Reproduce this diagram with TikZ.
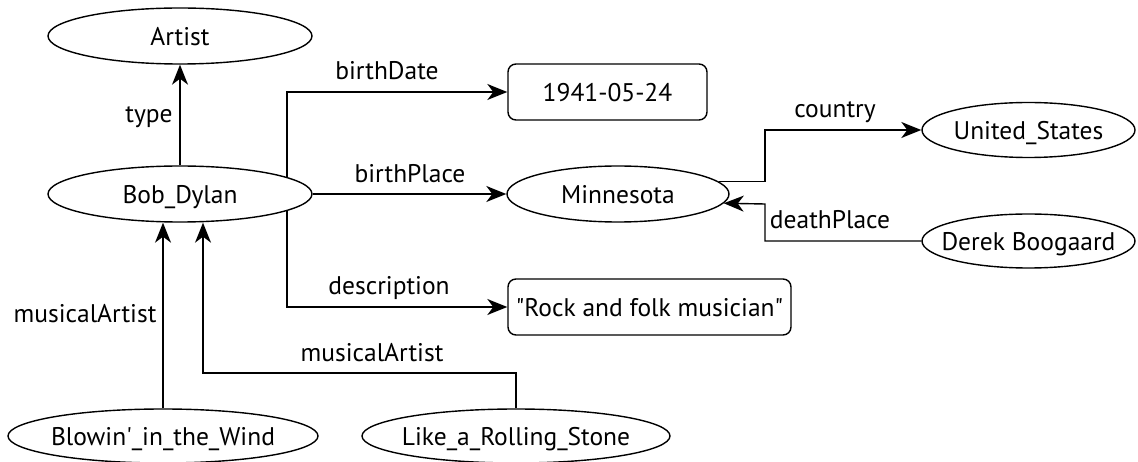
\documentclass[tikz,border=0pt]{standalone}
\usepackage{fontspec}
\newfontfamily\ptfont{PT Sans}
\usetikzlibrary{shapes.geometric,arrows.meta}
\begin{document}
\begin{tikzpicture}[x=1pt,y=-1pt,
  font=\ptfont\fontsize{25.5}{30}\selectfont,
  every node/.style={inner sep=0pt, text height=22pt, text depth=3pt},
  ell/.style={draw, ellipse, line width=1.4pt, minimum height=56pt, inner xsep=-50pt},
  lit/.style={draw, rectangle, rounded corners=8pt, line width=1.4pt, minimum height=56pt},
  arr/.style={line width=1.4pt, -{Stealth[length=20pt,width=16pt,inset=6pt]}},
  lbl/.style={}
]
\useasboundingbox (0,0) rectangle (1138,462);
% nodes
\node[ell, minimum width=264pt] (artist) at (180,36) {Artist};
\node[ell, minimum width=264pt] (bob) at (180,194) {Bob\_Dylan};
\node[lit, minimum width=199pt] (date) at (607.5,92) {1941-05-24};
\node[ell, minimum width=222pt] (minn) at (618,194) {Minnesota};
\node[ell, minimum width=213pt, minimum height=55pt] (us) at (1028.5,130) {United\_States};
\node[ell, minimum width=213pt, minimum height=54pt] (derek) at (1028.5,241) {Derek Boogaard};
\node[lit, minimum width=283pt] (desc) at (649.5,307) {"Rock and folk musician"};
\node[ell, minimum width=310pt, minimum height=54pt] (blowin) at (163,436) {Blowin'\_in\_the\_Wind};
\node[ell, minimum width=308pt, minimum height=54pt] (like) at (516,436) {Like\_a\_Rolling\_Stone};
% bend points
\coordinate (cbend) at (765,130);
\coordinate (dbend) at (765,204);
\coordinate (lbend) at (203,373);
% connectors
\draw[arr] (bob) -- (artist);
\draw[arr] (bob.9.2) |- (date.west);
\draw[arr] (bob) -- (minn);
\draw[arr] (bob.-9.2) |- (desc.west);
\draw[arr] (minn.7.53) -| (cbend) -- (us.west);
\draw[arr] (derek.west) -| (dbend) -- (minn.-5.51);
\draw[arr] (blowin.north) -- (blowin.north |- bob.south);
\draw[arr] (like.north) |- (lbend) -- (lbend |- bob.south);
% labels
\node[lbl] (ltype) at (149,113.5) {type};
\node[lbl] (lbdate) at (387,70.5) {birthDate};
\node[lbl] (lbplace) at (410,173.5) {birthPlace};
\node[lbl] (ldesc) at (389,285.5) {description};
\node[lbl] (lcountry) at (835,108.5) {country};
\node[lbl] (ldeath) at (830,219.5) {deathPlace};
\node[lbl] (lma1) at (85,313.5) {musicalArtist};
\node[lbl] (lma2) at (372,352) {musicalArtist};
\end{tikzpicture}
\end{document}
